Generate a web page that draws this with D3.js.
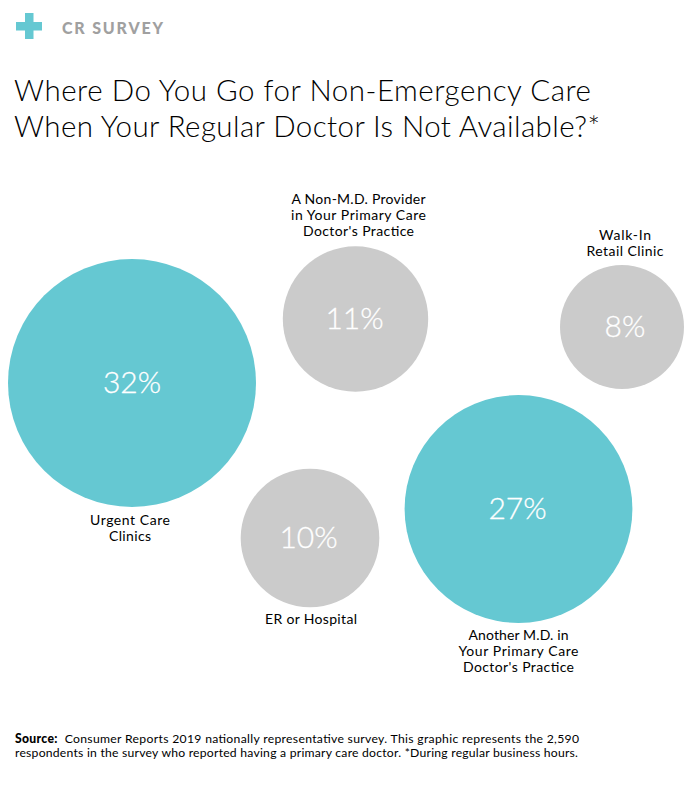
<!DOCTYPE html>
<html><head><meta charset="utf-8">
<script src="https://cdn.jsdelivr.net/npm/d3@7/dist/d3.min.js"></script>
<style>html,body{margin:0;padding:0;background:#fff}svg{display:block}</style>
</head><body><svg id="c" width="700" height="797"></svg>
<script>
const categories=["Urgent Care Clinics","A Non-M.D. Provider in Your Primary Care Doctor's Practice","Walk-In Retail Clinic","ER or Hospital","Another M.D. in Your Primary Care Doctor's Practice"];
const values=[32,11,8,10,27];
const highlighted=["Urgent Care Clinics","Another M.D. in Your Primary Care Doctor's Practice"];
const labelLines=[["Urgent Care","Clinics"],["A Non-M.D. Provider","in Your Primary Care","Doctor's Practice"],["Walk-In","Retail Clinic"],["ER or Hospital"],["Another M.D. in","Your Primary Care","Doctor's Practice"]];

const W=700,H=797;
const svg=d3.select("#c");
const font="Lato, 'Open Sans', sans-serif";
const teal="#65c8d2",grey="#cbcbcb",ink="#000";
// Area-proportional circles: radius scale derived from the values
const r=d3.scaleSqrt().domain([0,32]).range([0,124]);
const color=d3.scaleOrdinal().domain(categories).range(categories.map(c=>highlighted.includes(c)?teal:grey));
// Hand layout of the packed bubbles (not data)
const layout=[
 {cx:132,cy:383,tx:132,lx:130,ly:525,lw:[80,42]},
 {cx:355.5,cy:319,tx:354.5,lx:358.5,ly:204,lw:[134,135,111]},
 {cx:622,cy:327,tx:625,lx:625,ly:240,lw:[52,77]},
 {cx:310,cy:538,tx:308.5,lx:311,ly:624,lw:[92]},
 {cx:518.5,cy:509,tx:517.5,lx:518.5,ly:640,lw:[100,120,111]}
];
// Logo
svg.append("rect").attr("x",25).attr("y",13).attr("width",8.5).attr("height",26).attr("fill",teal);
svg.append("rect").attr("x",16).attr("y",22).attr("width",26).attr("height",8.5).attr("fill",teal);
svg.append("text").attr("x",62).attr("y",34).attr("font-family",font).attr("font-weight",900).attr("font-size",16).attr("fill","#a0a0a0").attr("textLength",101).attr("lengthAdjust","spacing").text("CR SURVEY");
// Title
[["Where Do You Go for Non-Emergency Care",577],["When Your Regular Doctor Is Not Available?*",586]].forEach(([t,w],i)=>{
 svg.append("text").attr("x",14).attr("y",101+i*36).attr("font-family",font).attr("font-weight",300).attr("font-size",29.5).attr("fill",ink).attr("textLength",w).attr("lengthAdjust","spacing").text(t);
});
// Bubbles
categories.forEach((c,i)=>{
 const p=layout[i];
 svg.append("circle").attr("cx",p.cx).attr("cy",p.cy).attr("r",r(values[i])).attr("fill",color(c));
 svg.append("text").attr("x",p.tx).attr("y",p.cy+10).attr("text-anchor","middle").attr("font-family",font).attr("font-weight",300).attr("font-size",30).attr("fill","#fff").attr("stroke","#fff").attr("stroke-width",0.3).text(values[i]+"%");
 labelLines[i].forEach((l,j)=>{
  svg.append("text").attr("x",p.lx).attr("y",p.ly+j*16).attr("text-anchor","middle").attr("font-family",font).attr("font-size",14).attr("fill",ink).attr("textLength",p.lw[j]).attr("lengthAdjust","spacing").text(l);
 });
});
// Source
const src=svg.append("text").attr("x",15).attr("y",743).attr("font-family",font).attr("font-size",12.2).attr("fill",ink).attr("textLength",564).attr("lengthAdjust","spacing");
src.append("tspan").attr("font-weight",900).text("Source:");
src.append("tspan").text("\u00a0\u00a0Consumer Reports 2019 nationally representative survey. This graphic represents the 2,590");
svg.append("text").attr("x",15).attr("y",757).attr("font-family",font).attr("font-size",12.2).attr("fill",ink).attr("textLength",563).attr("lengthAdjust","spacing").text("respondents in the survey who reported having a primary care doctor. *During regular business hours.");
</script></body></html>
